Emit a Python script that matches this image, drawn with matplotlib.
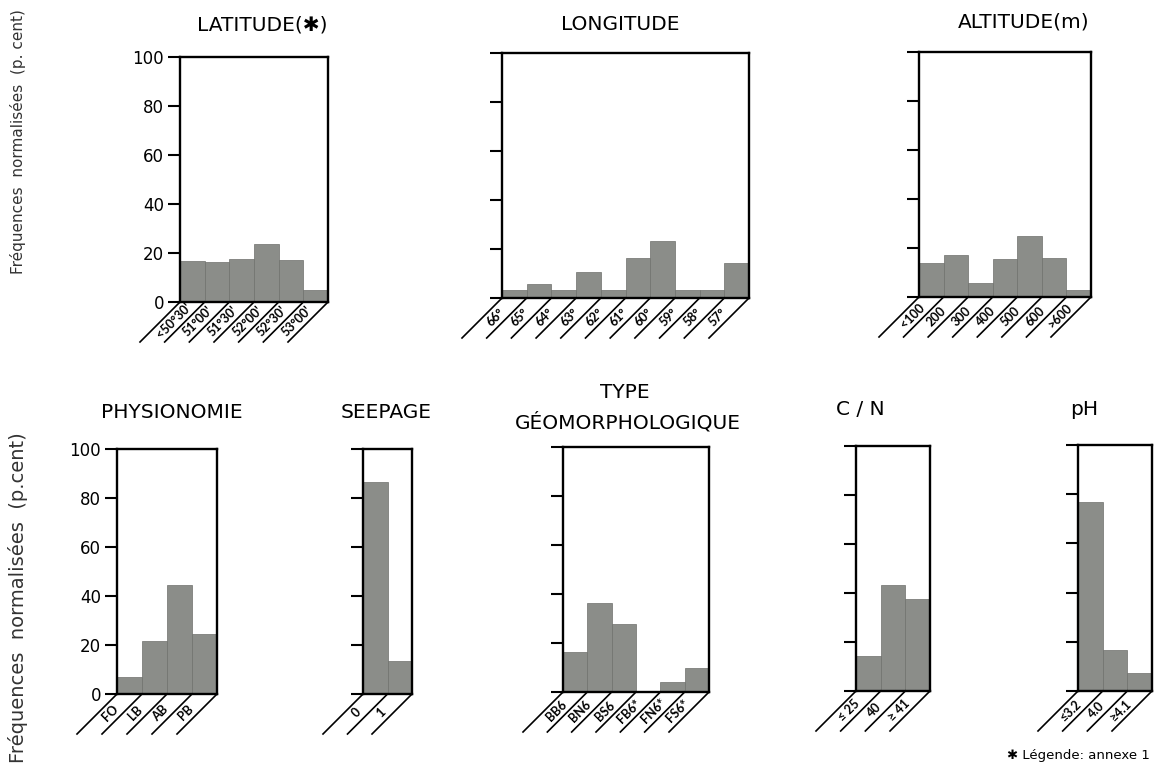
import numpy as np
import matplotlib
matplotlib.use("Agg")
import matplotlib.pyplot as plt

plt.rcParams['font.family'] = ['DejaVu Sans']

# ---------------- data ----------------
lat_labels = ["<50°30'", "51°00'", "51°30'", "52°00'", "52°30'", "53°00'"]
lat_vals = [16.6, 16.4, 17.5, 23.5, 17.0, 4.7]

lon_labels = ["66°", "65°", "64°", "63°", "62°", "61°", "60°", "59°", "58°", "57°"]
lon_vals = [3.1, 5.9, 3.1, 10.6, 3.3, 16.2, 23.2, 3.3, 3.3, 14.4]

alt_labels = ["<100", "200", "300", "400", "500", "600", ">600"]
alt_vals = [14.0, 17.0, 5.7, 15.7, 24.8, 16.0, 3.0]

phys_labels = ["FO", "LB", "AB", "PB"]
phys_vals = [7.1, 21.8, 44.3, 24.4]

seep_labels = ["0", "1"]
seep_vals = [86.5, 13.5]

geo_labels = ["BB6", "BN6", "BS6", "FB6*", "FN6*", "FS6*"]
geo_vals = [16.3, 36.3, 27.9, 0.0, 3.9, 9.7]

cn_labels = ["≤ 25", "40", "≥ 41"]
cn_vals = [14.3, 43.2, 37.7]

ph_labels = ["≤3.2", "4.0", "≥4.1"]
ph_vals = [76.8, 16.6, 7.4]

yticks = [0, 20, 40, 60, 80, 100]
ytick_labels = ["0", "20", "40", "60", "80", "100"]

# ---------------- figure ----------------
W, H = 1154, 773
fig = plt.figure(figsize=(W / 100, H / 100), dpi=100)
GRAY = '#8b8d89'
LABEL_FONT = ['Lato', 'DejaVu Sans']


def panel(rect, vals, labels, show_ylabels=False, line_len=40):
    l, r, t, b = rect
    ax = fig.add_axes([l / W, 1 - b / H, (r - l) / W, (b - t) / H])
    n = len(vals)
    ax.bar(np.arange(n), vals, width=1.0, align='edge', color=GRAY,
           edgecolor='#6e706c', linewidth=0.5, zorder=1)
    ax.set_xlim(0, n)
    ax.set_ylim(0, 100)
    ax.set_xticks([])
    ax.set_yticks(yticks)
    if show_ylabels:
        ax.set_yticklabels(ytick_labels, fontsize=12, color='#222222')
    else:
        ax.set_yticklabels([])
    ax.tick_params(axis='y', direction='out', length=8.5, width=1.5, pad=3,
                   colors='black')
    for s in ax.spines.values():
        s.set_linewidth(1.7)
        s.set_zorder(3)
    pxx = (r - l) / n
    pxy = (b - t) / 100.0
    for i in range(n + 1):
        ax.plot([i, i - line_len / pxx], [0, -line_len / pxy], color='black',
                lw=1.2, clip_on=False, zorder=3)
    d = 19
    for i, lab in enumerate(labels):
        ax.text(i + 0.5 - d / pxx, -d / pxy, lab, rotation=45,
                rotation_mode='anchor', ha='center', va='center',
                fontsize=9, fontweight='bold', family=LABEL_FONT,
                clip_on=False)
    return ax


panel((180, 328, 57, 302), lat_vals, lat_labels, show_ylabels=True)
panel((502, 749, 53, 298), lon_vals, lon_labels)
panel((919, 1091, 52, 297), alt_vals, alt_labels)

panel((117, 217, 449, 694), phys_vals, phys_labels, show_ylabels=True)
panel((363, 412, 449, 694), seep_vals, seep_labels)
panel((563, 709, 447, 692), geo_vals, geo_labels)
panel((856, 930, 446, 691), cn_vals, cn_labels)
panel((1078, 1152, 445, 691), ph_vals, ph_labels)


def ftext(x, y, s, **kw):
    fig.text(x / W, 1 - y / H, s, ha='center', va='center', **kw)


TS = 14.5
ftext(262, 25, "LATITUDE(✱)", fontsize=TS)
ftext(620, 24, "LONGITUDE", fontsize=TS)
ftext(1024, 22, "ALTITUDE(m)", fontsize=TS)
ftext(172, 412, "PHYSIONOMIE", fontsize=TS)
ftext(386, 412, "SEEPAGE", fontsize=TS)
ftext(625, 393, "TYPE", fontsize=TS)
ftext(628, 422, "GÉOMORPHOLOGIQUE", fontsize=TS)
ftext(860, 410, "C / N", fontsize=TS)
ftext(1084, 410, "pH", fontsize=TS)

ftext(18, 142, "Fréquences  normalisées  (p. cent)", rotation=90,
      fontsize=11, color='#333333')
ftext(18, 598, "Fréquences  normalisées  (p.cent)", rotation=90,
      fontsize=14, color='#333333')

fig.text(1150 / W, 1 - 755 / H, "✱ Légende: annexe 1", ha='right',
         va='center', fontsize=9.5)

fig.savefig("out.png", dpi=100)
